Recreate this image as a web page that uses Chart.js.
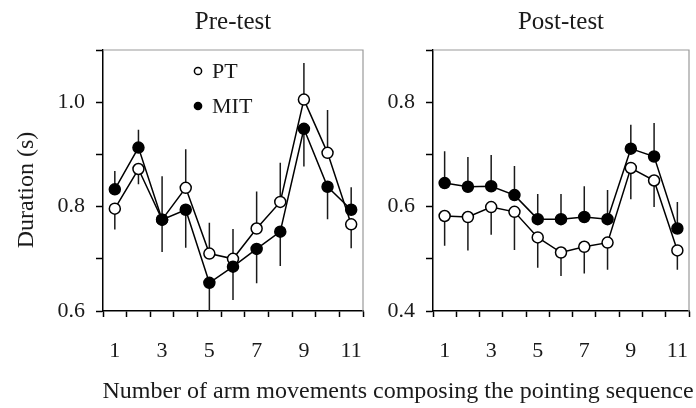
<!DOCTYPE html>
<html>
<head>
<meta charset="utf-8">
<script src="https://cdn.jsdelivr.net/npm/chart.js@4"></script>
<style>
  body { margin: 0; background: #fff; }
  #wrap { position: relative; width: 696px; height: 408px; overflow: hidden; }
  #c1 { position: absolute; left: 0; top: 0; }
  #c2 { position: absolute; left: 372px; top: 0; }
  #xtitle { position: absolute; left: 100px; width: 596px; top: 375px; text-align: center;
            font: 24px "Liberation Serif", serif; line-height: 30px; color: #1a1a1a; white-space: nowrap; }
  #ytitle { position: absolute; left: 25px; top: 190px; width: 200px; margin-left: -100px; margin-top: -15px;
            text-align: center; font: 24px "Liberation Serif", serif; line-height: 30px; color: #1a1a1a;
            transform: rotate(-90deg); white-space: nowrap; }
</style>
</head>
<body>
<div id="wrap">
  <canvas id="c1" width="372" height="408"></canvas>
  <canvas id="c2" width="324" height="408"></canvas>
  <div id="ytitle">Duration (s)</div>
  <div id="xtitle">Number of arm movements composing the pointing sequence</div>
</div>
<script>
// data (seconds)
const moves = [1, 2, 3, 4, 5, 6, 7, 8, 9, 10, 11];
const xLabels = [1, 3, 5, 7, 9, 11];

const prePT = [0.796, 0.872, 0.775, 0.836, 0.710, 0.700, 0.758, 0.809, 1.005, 0.903, 0.766];
const preMIT = [0.833, 0.913, 0.775, 0.794, 0.654, 0.685, 0.719, 0.752, 0.949, 0.838, 0.794];
const prePTerr = [0.040, 0.029, 0.062, 0.074, 0.059, 0.057, 0.071, 0.075, 0.070, 0.082, 0.046];
const preMITerr = [0.035, 0.034, 0.083, 0.073, 0.054, 0.064, 0.066, 0.066, 0.072, 0.062, 0.043];

const postPT = [0.582, 0.580, 0.599, 0.590, 0.541, 0.512, 0.523, 0.531, 0.674, 0.650, 0.516];
const postMIT = [0.645, 0.638, 0.639, 0.622, 0.576, 0.576, 0.580, 0.576, 0.711, 0.696, 0.558];
const postPTerr = [0.057, 0.064, 0.053, 0.073, 0.058, 0.045, 0.051, 0.052, 0.060, 0.051, 0.037];
const postMITerr = [0.061, 0.057, 0.060, 0.056, 0.048, 0.048, 0.059, 0.056, 0.046, 0.064, 0.051];

const serif = "'Liberation Serif', 'Times New Roman', serif";
const ink = "#1a1a1a";

function pts(vals) {
    return moves.map((m, i) => ({ x: m, y: vals[i] }));
}

// one-sided error bars, each drawn away from the other series
const errorBars = {
    id: "errorBars",
    beforeDatasetsDraw(chart, args, opts) {
        const { ctx, scales } = chart;
        const pt = opts.pt, mit = opts.mit;
        ctx.save();
        ctx.strokeStyle = ink;
        ctx.lineWidth = 1.5;
        moves.forEach((m, i) => {
            const x = scales.x.getPixelForValue(m);
            const ptDown = pt.vals[i] <= mit.vals[i];
            const a = ptDown ? pt.vals[i] - pt.err[i] : pt.vals[i] + pt.err[i];
            const b = ptDown ? mit.vals[i] + mit.err[i] : mit.vals[i] - mit.err[i];
            ctx.beginPath();
            ctx.moveTo(x, scales.y.getPixelForValue(pt.vals[i]));
            ctx.lineTo(x, scales.y.getPixelForValue(Math.max(a, scales.y.min)));
            ctx.moveTo(x, scales.y.getPixelForValue(mit.vals[i]));
            ctx.lineTo(x, scales.y.getPixelForValue(Math.max(b, scales.y.min)));
            ctx.stroke();
        });
        ctx.restore();
    }
};

// grey top and right frame
const frame = {
    id: "frame",
    afterDraw(chart) {
        const { ctx, chartArea: a } = chart;
        ctx.save();
        ctx.strokeStyle = "#9a9a9a";
        ctx.lineWidth = 1.2;
        ctx.beginPath();
        ctx.moveTo(a.left, a.top);
        ctx.lineTo(a.right, a.top);
        ctx.lineTo(a.right, a.bottom);
        ctx.stroke();
        ctx.restore();
    }
};

// small legend inside the left panel
const miniLegend = {
    id: "miniLegend",
    afterDraw(chart, args, opts) {
        if (!opts.show) return;
        const { ctx, chartArea: a } = chart;
        const items = [chart.data.datasets[1], chart.data.datasets[0]];
        ctx.save();
        ctx.font = "22px " + serif;
        ctx.textBaseline = "middle";
        items.forEach((ds, k) => {
            const x = a.left + 95, y = a.top + 21 + k * 35;
            ctx.beginPath();
            ctx.arc(x, y, 3.6, 0, Math.PI * 2);
            ctx.fillStyle = ds.pointBackgroundColor;
            ctx.fill();
            ctx.lineWidth = 1.5;
            ctx.strokeStyle = "#000";
            ctx.stroke();
            ctx.fillStyle = ink;
            ctx.fillText(ds.label, x + 14, y + 1);
        });
        ctx.restore();
    }
};

function makeChart(id, title, ptVals, mitVals, ptErr, mitErr, yMin, yMax, yWidth, padRight, showLegend) {
    return new Chart(document.getElementById(id), {
        type: "line",
        data: {
            datasets: [
                {
                    label: "MIT",
                    data: pts(mitVals),
                    borderColor: "#000",
                    borderWidth: 1.5,
                    pointRadius: 5.5,
                    pointBorderWidth: 1.5,
                    pointBackgroundColor: "#000",
                    pointBorderColor: "#000",
                    tension: 0
                },
                {
                    label: "PT",
                    data: pts(ptVals),
                    borderColor: "#000",
                    borderWidth: 1.5,
                    pointRadius: 5.5,
                    pointBorderWidth: 1.5,
                    pointBackgroundColor: "#fff",
                    pointBorderColor: "#000",
                    tension: 0
                }
            ]
        },
        options: {
            responsive: false,
            animation: false,
            layout: { padding: { left: 0, right: padRight, top: 0, bottom: 0 } },
            plugins: {
                legend: { display: false },
                tooltip: { enabled: false },
                title: {
                    display: true,
                    text: title,
                    fullSize: false,
                    color: ink,
                    font: { family: serif, size: 25, weight: "normal" },
                    padding: { top: 7, bottom: 13 }
                },
                errorBars: {
                    pt: { vals: ptVals, err: ptErr },
                    mit: { vals: mitVals, err: mitErr }
                },
                miniLegend: { show: showLegend }
            },
            scales: {
                x: {
                    type: "linear",
                    min: 0.5,
                    max: 11.5,
                    afterBuildTicks(scale) {
                        const t = [];
                        for (let v = 0.5; v <= 11.5; v += 0.5) t.push({ value: v });
                        scale.ticks = t;
                    },
                    afterFit(scale) {
                        scale.height = 97;
                        scale.paddingLeft = 0;
                        scale.paddingRight = 0;
                    },
                    ticks: {
                        autoSkip: false,
                        maxRotation: 0,
                        padding: 21,
                        color: ink,
                        font: { family: serif, size: 22 },
                        callback: v => xLabels.includes(v) ? String(v) : ""
                    },
                    grid: {
                        drawOnChartArea: false,
                        drawTicks: true,
                        tickLength: 6,
                        tickWidth: 1.5,
                        tickColor: c => Number.isInteger(c.tick.value) ? "rgba(0,0,0,0)" : "#000"
                    },
                    border: { display: true, color: "#000", width: 1.5 }
                },
                y: {
                    type: "linear",
                    min: yMin,
                    max: yMax,
                    afterBuildTicks(scale) {
                        const t = [];
                        for (let k = Math.round(yMin * 10); k <= Math.round(yMax * 10); k++) t.push({ value: k / 10 });
                        scale.ticks = t;
                    },
                    afterFit(scale) { scale.width = yWidth; },
                    ticks: {
                        padding: 11,
                        color: ink,
                        font: { family: serif, size: 22 },
                        callback: v => {
                            const k = Math.round(v * 10);
                            return (k % 2 === 0 && v < yMax - 0.01) ? (k / 10).toFixed(1) : "";
                        }
                    },
                    grid: {
                        drawOnChartArea: false,
                        drawTicks: true,
                        tickLength: 7,
                        tickWidth: 1.5,
                        tickColor: "#000"
                    },
                    border: { display: true, color: "#000", width: 1.5 }
                }
            }
        },
        plugins: [errorBars, frame, miniLegend]
    });
}

makeChart("c1", "Pre-test", prePT, preMIT, prePTerr, preMITerr, 0.6, 1.1, 103, 9, true);
makeChart("c2", "Post-test", postPT, postMIT, postPTerr, postMITerr, 0.4, 0.9, 61, 2, false);
</script>
</body>
</html>
